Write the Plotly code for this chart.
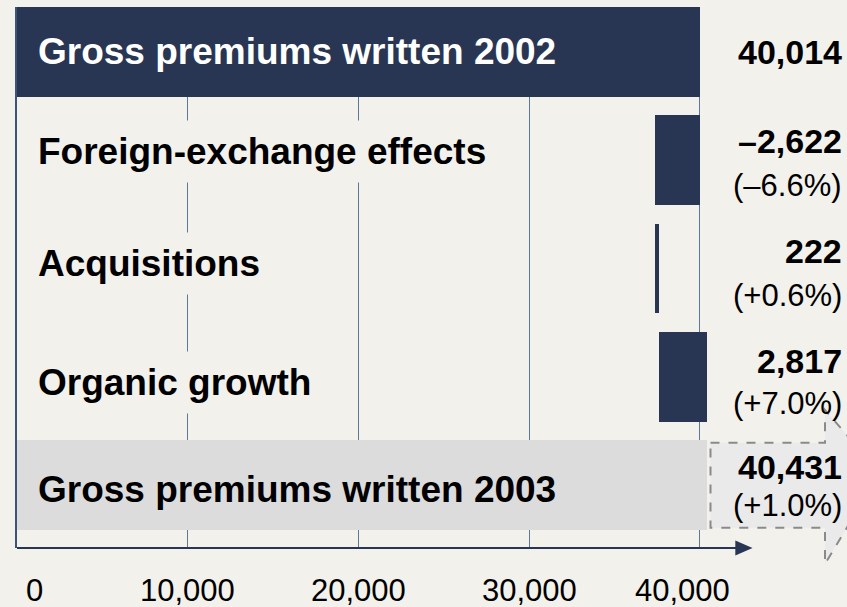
import plotly.graph_objects as go

# Premium bridge 2002 -> 2003 (EUR m)
categories = [
    "Gross premiums written 2002",
    "Foreign-exchange effects",
    "Acquisitions",
    "Organic growth",
    "Gross premiums written 2003",
]
changes = [40014, -2622, 222, 2817, 40431]
pct_labels = ["", "(–6.6%)", "(+0.6%)", "(+7.0%)", "(+1.0%)"]
tick_values = [0, 10000, 20000, 30000, 40000]
tick_labels = ["0", "10,000", "20,000", "30,000", "40,000"]

BG = "#F2F1EB"
NAVY = "#283654"
GREY = "#DCDCDC"
GRID = "#5B7A99"
FONT = "Liberation Sans, Arial, sans-serif"

# waterfall bases: totals start at zero, steps start from the running total
bases = []
running = 0
for i, v in enumerate(changes):
    if i == 0 or i == len(changes) - 1:
        bases.append(0)
        running = v if i == 0 else running
    else:
        bases.append(running)
        running += v

colors = [NAVY, NAVY, NAVY, NAVY, GREY]
rows = list(range(len(categories)))

X_MAX = 44000
Y_TOP, Y_BOT = -0.4166, 4.584

fig = go.Figure(
    go.Bar(
        y=rows,
        x=changes,
        base=bases,
        orientation="h",
        width=0.83,
        marker=dict(color=colors, line=dict(width=0)),
        hoverinfo="skip",
    )
)


def fmt(v):
    s = f"{abs(v):,}"
    return ("–" + s) if v < 0 else s


annotations = []

# category labels sitting inside the plot area
label_colors = ["white", "black", "black", "black", "black"]
label_bg = ["rgba(0,0,0,0)", BG, BG, BG, "rgba(0,0,0,0)"]
label_shift = [1, 9, 5, -6, -5]
for r, name, c, bg, sh in zip(rows, categories, label_colors, label_bg, label_shift):
    annotations.append(dict(
        x=0, y=r, xref="x", yref="y", text=f"<b>{name}</b>",
        xanchor="left", yanchor="middle", showarrow=False,
        xshift=10, yshift=sh, bgcolor=bg, borderpad=10,
        font=dict(family=FONT, size=37, color=c),
    ))

# value and percentage labels on the right
value_shift = [0, 19, 17, 16, 18]
pct_shift = [0, -25, -27, -27, -21]
for r, v, p, vs, ps in zip(rows, changes, pct_labels, value_shift, pct_shift):
    annotations.append(dict(
        x=1.101, y=r, xref="paper", yref="y", text=f"<b>{fmt(v)}</b>",
        xanchor="right", yanchor="middle", showarrow=False, yshift=vs,
        font=dict(family=FONT, size=34, color="black"),
    ))
    if p:
        annotations.append(dict(
            x=1.101, y=r, xref="paper", yref="y", text=p,
            xanchor="right", yanchor="middle", showarrow=False, yshift=ps,
            font=dict(family=FONT, size=31, color="black"),
        ))

# axis tick labels, end labels nudged inward
tick_nudge = [17, 0, 0, 0, -17]
for tv, tl, dx in zip(tick_values, tick_labels, tick_nudge):
    annotations.append(dict(
        x=tv, y=0, xref="x", yref="paper", text=tl,
        xanchor="center", yanchor="middle", showarrow=False,
        xshift=dx, yshift=-42,
        font=dict(family=FONT, size=31, color="black"),
    ))


def ypaper(yv):
    return (Y_BOT - yv) / (Y_BOT - Y_TOP)


# dashed call-out arrow around the 2003 total
last = len(changes) - 1
x0 = (changes[last] + 200) / X_MAX
x1 = 1.0759
x_tip = 1.1491
yt, yb = ypaper(last - 0.39), ypaper(last + 0.396)
ym = ypaper(last - 0.11)
ytt, ybb = ypaper(last - 0.692), ypaper(last + 0.731)
arrow_path = (
    f"M {x0} {yt} L {x1} {yt} L {x1} {ytt} L {x_tip} {ym} "
    f"L {x1} {ybb} L {x1} {yb} L {x0} {yb} Z"
)

shapes = [
    dict(type="path", xref="paper", yref="paper", path=arrow_path,
         fillcolor="#EAEAEA", line=dict(color="#8A8A8A", width=2, dash="dash"),
         layer="below"),
    # horizontal axis with arrow head
    dict(type="line", xref="paper", yref="paper", x0=0, x1=0.958, y0=0, y1=0,
         line=dict(color=NAVY, width=2)),
    dict(type="path", xref="paper", yref="paper",
         path="M 0.9565 0.0137 L 0.9794 0 L 0.9565 -0.0137 Z",
         fillcolor=NAVY, line=dict(width=0)),
]

fig.update_layout(
    width=847, height=607,
    margin=dict(l=17, r=79, t=7, b=59),
    paper_bgcolor=BG, plot_bgcolor=BG,
    showlegend=False,
    bargap=0,
    xaxis=dict(
        range=[0, X_MAX], tickvals=tick_values, showticklabels=False,
        showgrid=True, gridcolor=GRID, gridwidth=1,
        zeroline=False, showline=False, ticks="", fixedrange=True,
    ),
    yaxis=dict(
        range=[Y_BOT, Y_TOP], showticklabels=False, showgrid=False,
        zeroline=False, showline=True, linecolor="#3B5478", linewidth=1.5,
        ticks="", fixedrange=True,
    ),
    annotations=annotations,
    shapes=shapes,
)

fig.write_html("out.html")
